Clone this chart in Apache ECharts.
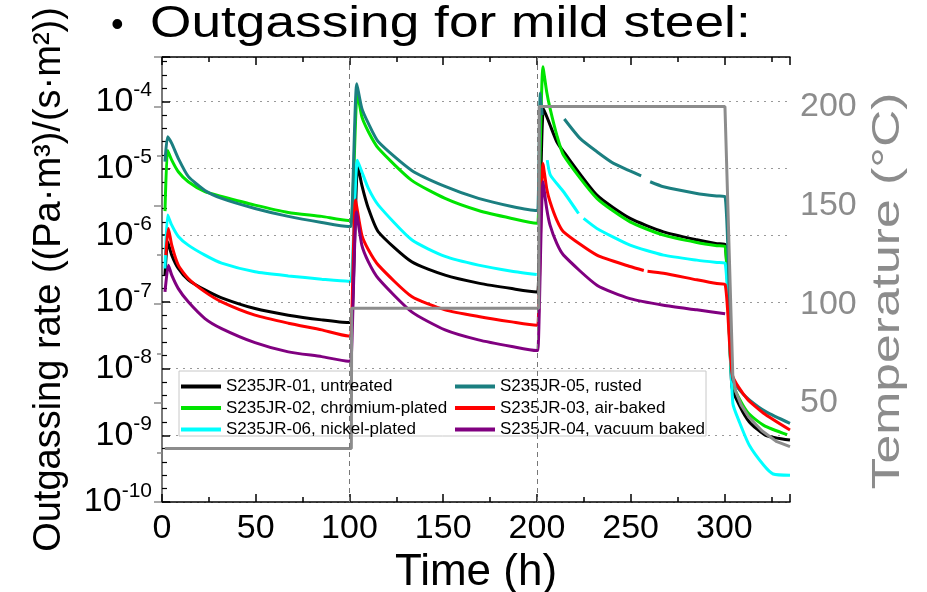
<!DOCTYPE html>
<html><head><meta charset="utf-8">
<script src="https://cdn.jsdelivr.net/npm/echarts@6/dist/echarts.min.js"></script>
<style>html,body{margin:0;padding:0;background:#fff}#c{width:927px;height:592px}</style>
</head><body><div id="c"></div>
<script>
// Time ticks / axis ranges
const timeTicks = [0, 50, 100, 150, 200, 250, 300];
const rateExponents = [-10, -9, -8, -7, -6, -5, -4];
const tempTicks = [50, 100, 150, 200];
const stageBoundaries = [100, 200];

const seriesNames = [
  'S235JR-01, untreated',
  'S235JR-02, chromium-plated',
  'S235JR-06, nickel-plated',
  'S235JR-05, rusted',
  'S235JR-03, air-baked',
  'S235JR-04, vacuum baked'
];
const seriesColors = ['#000000', '#00e400', '#00ffff', '#1b7f80', '#ff0000', '#800080'];

// [time (h), outgassing rate (Pa m3 / s m2)], null = gap
const untreated = [
  [1.6,2.51e-7],[3.0,7.94e-7],[5.2,5.01e-7],[8.7,3.16e-7],[14,2.14e-7],[22.9,1.51e-7],[31.8,1.15e-7],[49.6,7.94e-8],[67.4,6.31e-8],[85.2,5.37e-8],[99.4,4.90e-8],
  [101.0,4.90e-8],[104.4,1.12e-5],[106.6,5.62e-6],[110.1,2.51e-6],[115.4,1.12e-6],[133.2,3.98e-7],[151,2.51e-7],[168.8,1.91e-7],[186.6,1.58e-7],[199.9,1.41e-7],
  [200.5,1.41e-7],[203.5,7.94e-5],[207,4.47e-5],[210.6,2.51e-5],[214.2,1.78e-5],[232,3.98e-6],[249.7,1.78e-6],[267.5,1.12e-6],[285.3,8.51e-7],[296,7.45e-7],[300.4,7.24e-7],
  [304,5.37e-9],[308,2.8e-9],[313.3,1.58e-9],[322,1.0e-9],[335,8.5e-10]
];
const chromium = [
  [1.6,2.29e-6],[3.0,1.86e-5],[5.2,1.33e-5],[8.7,8.91e-6],[14,6.31e-6],[22.9,4.47e-6],[31.8,3.80e-6],[49.6,2.82e-6],[67.4,2.19e-6],[85.2,1.91e-6],[99.4,1.66e-6],
  [101.0,1.66e-6],[104.2,1.41e-4],[106.6,5.96e-5],[110.1,3.55e-5],[115.4,2.00e-5],[133.2,6.61e-6],[151,3.55e-6],[168.8,2.34e-6],[186.6,1.78e-6],[199.9,1.51e-6],
  [200.5,1.51e-6],[203.2,3.35e-4],[205.2,1.41e-4],[207,7.94e-5],[210.6,3.16e-5],[214.2,1.58e-5],[232,3.55e-6],[249.7,1.58e-6],[267.5,1.0e-6],[285.3,7.76e-7],[296,6.95e-7],[300.4,6.76e-7],
  [304.2,6.31e-9],[312.2,2.24e-9],[321,1.41e-9],[333.5,1.02e-9]
];
const nickel = [
  [1.6,3.16e-7],[3.0,2.00e-6],[5.2,1.41e-6],[8.7,9.55e-7],[14,7.08e-7],[22.9,5.01e-7],[31.8,3.80e-7],[49.6,2.82e-7],[67.4,2.45e-7],[85.2,2.19e-7],[99.4,2.04e-7],
  [100.8,2.04e-7],[104.2,1.33e-5],[106.6,8.91e-6],[110.1,5.01e-6],[115.4,2.82e-6],[133.2,8.51e-7],[151,4.79e-7],[168.8,3.55e-7],[186.6,2.88e-7],[199.9,2.57e-7],
  null,
  [205.5,1.33e-5],[207.2,7.94e-6],[214.2,4.47e-6],[222.2,2.11e-6],
  null,
  [224.9,1.78e-6],[232,1.26e-6],[249.7,7.08e-7],[267.5,5.01e-7],[285.3,4.22e-7],[296,3.90e-7],[300.4,3.80e-7],
  [304.5,3.02e-9],[308,1.58e-9],[313.3,7.08e-10],[321,3.55e-10],[326,2.63e-10],[335,2.51e-10]
];
const rusted = [
  [1.6,1.26e-5],[3.0,2.99e-5],[5.2,2.37e-5],[8.7,1.41e-5],[14,7.59e-6],[22.9,4.68e-6],[31.8,3.55e-6],[49.6,2.51e-6],[67.4,1.91e-6],[85.2,1.55e-6],[99.4,1.35e-6],
  [100.8,1.35e-6],[103.9,1.86e-4],[106.6,7.94e-5],[110.1,4.73e-5],[115.4,2.51e-5],[133.2,9.33e-6],[151,5.37e-6],[168.8,3.55e-6],[186.6,2.69e-6],[199.9,2.34e-6],
  [200.5,2.34e-6],[201.8,1.35e-4],[202.8,6.31e-5],
  null,
  [214.6,5.50e-5],[223,2.82e-5],[232,1.78e-5],[240.9,1.19e-5],[255.6,7.76e-6],
  null,
  [260.4,6.31e-6],[267.5,5.31e-6],[285.3,4.22e-6],[296,3.86e-6],[300.4,3.76e-6],
  [304.3,7.08e-9],[308,4.79e-9],[313.3,3.39e-9],[322.3,2.24e-9],[335,1.51e-9]
];
const airBaked = [
  [2.0,5.01e-7],[3.4,1.26e-6],[5.2,7.08e-7],[8.7,3.55e-7],[14,2.24e-7],[22.9,1.41e-7],[31.8,1.0e-7],[49.6,6.31e-8],[67.4,4.79e-8],[85.2,3.80e-8],[99.4,3.09e-8],
  [100.7,3.09e-8],[103.2,3.35e-6],[106.6,1.0e-6],[110.1,6.03e-7],[115.4,3.55e-7],[133.2,1.20e-7],[151,7.59e-8],[168.8,6.03e-8],[186.6,5.01e-8],[199.9,4.47e-8],
  [200.5,4.47e-8],[203.2,1.19e-5],[205.2,5.01e-6],[207,3.16e-6],[210.6,1.68e-6],[214.2,1.12e-6],[232,5.01e-7],[249.7,3.39e-7],[257,2.95e-7],
  null,
  [259,2.88e-7],[267.5,2.69e-7],[285.3,2.14e-7],[296,1.88e-7],[300.4,1.82e-7],
  [304.3,7.94e-9],[312,3.55e-9],[320.9,2.14e-9],[335,1.20e-9]
];
const vacuumBaked = [
  [1.6,1.41e-7],[3.4,3.55e-7],[5.2,2.51e-7],[8.7,1.58e-7],[14,1.0e-7],[22.9,5.62e-8],[31.8,3.98e-8],[49.6,2.45e-8],[67.4,1.78e-8],[85.2,1.51e-8],[99.4,1.29e-8],
  [100.7,1.29e-8],[103.7,2.24e-6],[106.6,7.08e-7],[110.1,3.98e-7],[115.4,2.24e-7],[133.2,7.08e-8],[151,3.80e-8],[168.8,2.69e-8],[186.6,2.14e-8],[199.9,1.86e-8],
  [200.5,1.86e-8],[203.2,6.31e-6],[205.2,2.51e-6],[207,1.41e-6],[210.6,7.50e-7],[214.2,5.01e-7],[232,1.78e-7],[249.7,1.12e-7],[267.5,8.91e-8],[285.3,7.59e-8],[300.4,6.61e-8]
];
// [time (h), temperature (°C)]
const temperature = [
  [1.5,27],[101,27],[101.2,98],[201,98],[201.2,200],[300.3,200],[304.5,64],[306,56],[309,49],[313,43],[320,36],[328,30.5],[335,28]
];

const rateData = [untreated, chromium, nickel, rusted, airBaked, vacuumBaked];
function toLog(arr) {
  let lastT = 0;
  return arr.map(p => {
    if (p === null) return [lastT, '-'];
    lastT = p[0];
    return [p[0], Math.log10(p[1])];
  });
}

const series = rateData.map((d, i) => ({
  name: seriesNames[i], type: 'line', xAxisIndex: 0, yAxisIndex: 0,
  data: toLog(d), showSymbol: false, smooth: 0.2,
  lineStyle: { color: seriesColors[i], width: 3 }, itemStyle: { color: seriesColors[i] },
  emphasis: { disabled: true }, z: 3
}));
series[0].markLine = {
  silent: true, symbol: 'none', label: { show: false },
  lineStyle: { type: [5, 4], color: '#777', width: 1 },
  data: stageBoundaries.map(v => ({ xAxis: v }))
};
series.push({
  name: 'Temperature', type: 'line', xAxisIndex: 0, yAxisIndex: 1,
  data: temperature, showSymbol: false,
  lineStyle: { color: '#8c8c8c', width: 3 }, itemStyle: { color: '#8c8c8c' },
  emphasis: { disabled: true }, z: 3
});

const FONT = 'Liberation Sans, Arial, sans-serif';
const chart = echarts.init(document.getElementById('c'), null, { renderer: 'canvas' });
chart.setOption({
  animation: false,
  backgroundColor: '#fff',
  textStyle: { fontFamily: FONT },
  grid: { left: 162, right: 137, top: 57, bottom: 90, outerBoundsMode: 'none', containLabel: false },
  legend: [
    { data: seriesNames.slice(0, 3), orient: 'vertical', left: 176, top: 373, itemGap: 4.5,
      icon: 'rect', itemWidth: 40, itemHeight: 4, selectedMode: false,
      textStyle: { fontFamily: FONT, fontSize: 17, color: '#000' } },
    { data: seriesNames.slice(3, 6), orient: 'vertical', left: 450, top: 373, itemGap: 4.5,
      icon: 'rect', itemWidth: 40, itemHeight: 4, selectedMode: false,
      textStyle: { fontFamily: FONT, fontSize: 17, color: '#000' } }
  ],
  graphic: [
    { type: 'rect', z: 1, silent: true,
      shape: { x: 179, y: 371, width: 527, height: 65 },
      style: { fill: '#fff', stroke: '#c8c8c8', lineWidth: 1 } },
    { type: 'text', z: 10, silent: true, x: 111, y: 8,
      style: { text: '•', font: '36px "Liberation Sans"', fill: '#000' } },
    { type: 'text', z: 10, silent: true, x: 150, y: 3, scaleX: 1.21,
      style: { text: 'Outgassing for mild steel:', font: '44px "Liberation Sans"', fill: '#000' } },
    { type: 'text', z: 10, silent: true, x: 889, y: 291, rotation: Math.PI / 2, scaleX: 1.36,
      style: { text: 'Temperature (°C)', font: '38px "Liberation Sans"', fill: '#8c8c8c',
        align: 'center', verticalAlign: 'middle' } }
  ],
  xAxis: [
    { type: 'value', position: 'bottom', min: 0, max: 335, interval: 50,
      axisLine: { lineStyle: { color: '#000', width: 1.5 } },
      axisTick: { inside: true, length: 8, lineStyle: { color: '#000', width: 1.5 } },
      minorTick: { show: true, splitNumber: 2, length: 5, lineStyle: { color: '#000', width: 1.5 } },
      splitLine: { show: false },
      axisLabel: { fontSize: 34, color: '#000', margin: 10, showMaxLabel: false, fontFamily: FONT },
      name: 'Time (h)', nameLocation: 'middle', nameGap: 46,
      nameTextStyle: { fontSize: 44, color: '#000', fontFamily: FONT } },
    { type: 'value', position: 'top', min: 0, max: 335, interval: 50,
      axisLine: { lineStyle: { color: '#000', width: 1.5 } },
      axisTick: { inside: true, length: 8, lineStyle: { color: '#000', width: 1.5 } },
      minorTick: { show: true, splitNumber: 2, length: 5, lineStyle: { color: '#000', width: 1.5 } },
      splitLine: { show: false }, axisLabel: { show: false } }
  ],
  yAxis: [
    { type: 'value', position: 'left', min: -10, max: -3.33, interval: 1,
      axisLine: { show: true, lineStyle: { color: '#000', width: 1.5 } },
      axisTick: { inside: true, length: 8, lineStyle: { color: '#000', width: 1.5 } },
      minorTick: { show: true, splitNumber: 5, length: 5, lineStyle: { color: '#000', width: 1.2 } },
      splitLine: { show: true, lineStyle: { type: [2, 5], color: '#999', width: 1.2 } },
      axisLabel: {
        margin: 10, showMaxLabel: false,
        formatter: v => '{b|10}{s|' + v + '}',
        rich: {
          b: { fontSize: 34, color: '#000', fontFamily: FONT },
          s: { fontSize: 21, color: '#000', fontFamily: FONT, padding: [0, 0, 22, 0] }
        }
      },
      name: 'Outgassing rate ((Pa·m³)/(s·m²))', nameLocation: 'middle', nameGap: 93, nameRotate: 90,
      nameTextStyle: { fontSize: 38, color: '#000', fontFamily: FONT } },
    { type: 'value', position: 'right', min: 0, max: 225, interval: 50,
      axisLine: { show: true, lineStyle: { color: '#8c8c8c', width: 1.5 } },
      axisTick: { inside: true, length: 8, lineStyle: { color: '#8c8c8c', width: 1.5 } },
      minorTick: { show: true, splitNumber: 2, length: 5, lineStyle: { color: '#8c8c8c', width: 1.5 } },
      splitLine: { show: false },
      axisLabel: { fontSize: 34, color: '#8c8c8c', margin: 10, showMaxLabel: false,
        formatter: v => (v === 0 ? '' : String(v)), fontFamily: FONT } }
  ],
  series: series
});
</script>
</body></html>
